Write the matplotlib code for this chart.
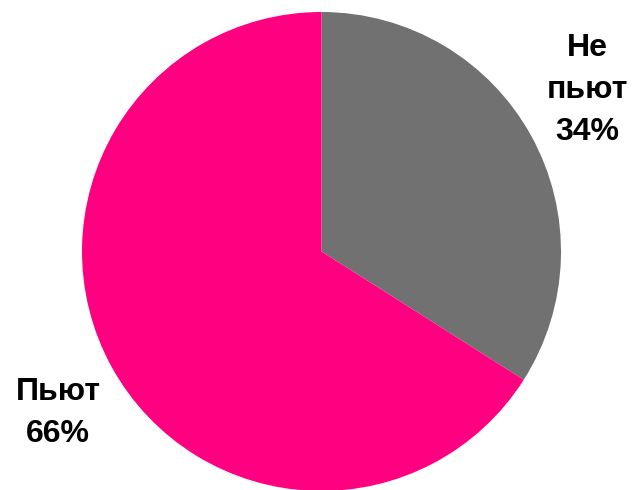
import matplotlib
matplotlib.use("Agg")
import matplotlib.pyplot as plt

labels = ["Не\nпьют", "Пьют"]
shares = [34, 66]
colors = ["#717171", "#FF0080"]

W, H = 635, 490
fig = plt.figure(figsize=(W / 100, H / 100), dpi=100)

cx, cy, r = 321.5, 251.5, 239.5
ax = fig.add_axes([(cx - r) / W, (H - cy - r) / H, 2 * r / W, 2 * r / H])
ax.pie(shares, colors=colors, startangle=90, counterclock=False,
       radius=1.0, wedgeprops=dict(linewidth=0))
ax.set_xlim(-1, 1)
ax.set_ylim(-1, 1)
ax.set_aspect("equal")
ax.axis("off")

font = dict(family="Liberation Sans", weight="bold", fontsize=23,
            ha="center", va="center", multialignment="center",
            linespacing=1.52, color="black")
fig.text(587 / W, 1 - 90 / H, f"{labels[0]}\n{shares[0]}%", **font)
fig.text(58 / W, 1 - 413 / H, f"{labels[1]}\n{shares[1]}%", **font)

fig.savefig("out.png", dpi=100)
